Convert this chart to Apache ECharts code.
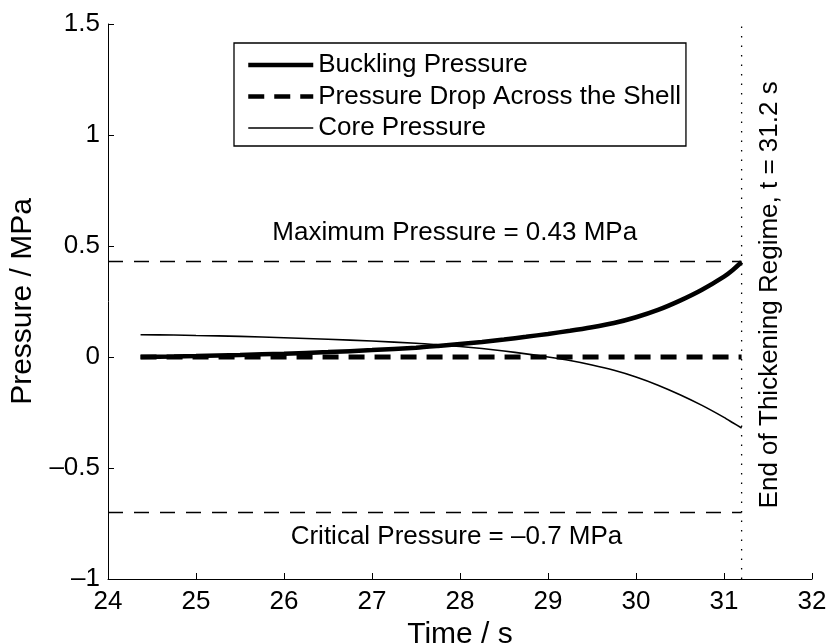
<!DOCTYPE html>
<html>
<head>
<meta charset="utf-8">
<script src="https://cdn.jsdelivr.net/npm/echarts@6/dist/echarts.min.js"></script>
<style>
html,body{margin:0;padding:0;background:#fff;}
#chart{width:829px;height:644px;}
</style>
</head>
<body>
<div id="chart"></div>
<script>
// ---- data ----
var time = [24.37, 24.75, 25, 25.5, 26, 26.5, 27, 27.5, 27.75, 28, 28.25, 28.5, 28.75, 29, 29.25, 29.5, 29.75, 30, 30.25, 30.5, 30.75, 31, 31.1, 31.2];
var bucklingPressure = [0.0, 0.002, 0.004, 0.009, 0.015, 0.022, 0.031, 0.042, 0.05, 0.059, 0.068, 0.079, 0.091, 0.104, 0.118, 0.134, 0.153, 0.179, 0.212, 0.254, 0.303, 0.362, 0.392, 0.428];
var corePressure = [0.1, 0.099, 0.097, 0.093, 0.087, 0.08, 0.072, 0.062, 0.055, 0.047, 0.038, 0.027, 0.014, 0.0, -0.016, -0.036, -0.06, -0.09, -0.127, -0.17, -0.218, -0.272, -0.296, -0.32];
var shellDropTime = [24.37, 31.2];
var shellDrop = [0, 0];
var maxPressure = 0.43;
var criticalPressure = -0.7;
var endTime = 31.2;
var xTicks = [24, 25, 26, 27, 28, 29, 30, 31, 32];
var yTicks = [-1, -0.5, 0, 0.5, 1, 1.5];
var seriesNames = ['Buckling Pressure', 'Pressure Drop Across the Shell', 'Core Pressure'];
var maxLabel = 'Maximum Pressure = 0.43 MPa';
var critLabel = 'Critical Pressure = \u20130.7 MPa';
var endLabel = 'End of Thickening Regime, t = 31.2 s';

function zip(xs, ys) { return xs.map(function (x, i) { return [x, ys[i]]; }); }
var FONT = "'Liberation Sans', Arial, Helvetica, sans-serif";
var TXT = 26;

var chart = echarts.init(document.getElementById('chart'), null, {renderer: 'canvas'});
var annLabel = function (text, rot) {
  return {show: true, formatter: text, position: 'inside', rotate: rot || 0,
          fontSize: TXT, fontFamily: FONT, color: '#000', textBorderWidth: 0, opacity: 1};
};
var option = {
  backgroundColor: '#fff',
  animation: false,
  textStyle: {fontFamily: FONT, color: '#000'},
  grid: {left: 108, right: 17, top: 24, bottom: 65, containLabel: false, outerBoundsMode: 'none'},
  legend: {
    orient: 'vertical',
    left: 234, top: 43,
    data: [
      {name: seriesNames[0], lineStyle: {width: 4.5}, itemStyle: {opacity: 0}},
      {name: seriesNames[1], lineStyle: {width: 4.5}, itemStyle: {opacity: 0}},
      {name: seriesNames[2], lineStyle: {width: 1.6}, itemStyle: {opacity: 0}}
    ],
    itemWidth: 65, itemHeight: 14, itemGap: 5.5,
    padding: [9, 5, 5, 12],
    borderColor: '#000', borderWidth: 1.3,
    backgroundColor: '#fff',
    textStyle: {fontFamily: FONT, fontSize: TXT, color: '#000', lineHeight: 26}
  },
  xAxis: {
    type: 'value', min: xTicks[0], max: xTicks[xTicks.length - 1], interval: 1,
    name: 'Time / s', nameLocation: 'middle', nameGap: 38,
    nameTextStyle: {fontFamily: FONT, fontSize: 30, color: '#000'},
    axisLine: {show: true, onZero: false, lineStyle: {color: '#000', width: 1}},
    axisTick: {show: true, inside: true, length: 6, lineStyle: {color: '#000'}},
    axisLabel: {fontFamily: FONT, fontSize: TXT, color: '#000', margin: 10},
    splitLine: {show: false}
  },
  yAxis: {
    type: 'value', min: yTicks[0], max: yTicks[yTicks.length - 1], interval: 0.5,
    name: 'Pressure / MPa', nameLocation: 'middle', nameGap: 70, nameRotate: 90,
    nameTextStyle: {fontFamily: FONT, fontSize: 30, color: '#000'},
    axisLine: {show: true, onZero: false, lineStyle: {color: '#000', width: 1}},
    axisTick: {show: true, inside: true, length: 6, lineStyle: {color: '#000'}},
    axisLabel: {fontFamily: FONT, fontSize: TXT, color: '#000', margin: 8,
      formatter: function (v) { return String(v).replace('-', '\u2013'); }},
    splitLine: {show: false}
  },
  series: [
    {
      name: seriesNames[0], type: 'line', data: zip(time, bucklingPressure),
      symbol: 'none', smooth: 0.25, z: 5,
      lineStyle: {color: '#000', width: 4.5, type: 'solid'}, itemStyle: {color: '#000'}
    },
    {
      name: seriesNames[1], type: 'line', data: zip(shellDropTime, shellDrop),
      symbol: 'none', z: 4,
      lineStyle: {color: '#000', width: 5, type: [16, 10]}, itemStyle: {color: '#000'}
    },
    {
      name: seriesNames[2], type: 'line', data: zip(time, corePressure),
      symbol: 'none', smooth: 0.25, z: 5,
      lineStyle: {color: '#000', width: 1.6, type: 'solid'}, itemStyle: {color: '#000'}
    },
    {
      name: 'max', type: 'line', data: [[xTicks[0], maxPressure], [endTime, maxPressure]],
      symbol: 'none', silent: true, z: 3,
      lineStyle: {color: '#000', width: 1.5, type: [15, 11]}
    },
    {
      name: 'crit', type: 'line', data: [[xTicks[0], criticalPressure], [endTime, criticalPressure]],
      symbol: 'none', silent: true, z: 3,
      lineStyle: {color: '#000', width: 1.5, type: [15, 11]}
    },
    {
      name: 'end', type: 'line', data: [[endTime, yTicks[0]], [endTime, yTicks[yTicks.length - 1]]],
      symbol: 'none', silent: true, z: 3,
      lineStyle: {color: '#000', width: 1.3, type: [1.5, 8]}
    },
    {
      name: 'annotations', type: 'scatter', symbolSize: 0, silent: true, z: 6,
      itemStyle: {opacity: 1, color: '#000'},
      data: [
        {value: [27.94, 0.56], label: annLabel(maxLabel)},
        {value: [27.96, -0.81], label: annLabel(critLabel)},
        {value: [31.52, 0.28], label: annLabel(endLabel, 90)}
      ]
    }
  ]
};
chart.setOption(option);
</script>
</body>
</html>
